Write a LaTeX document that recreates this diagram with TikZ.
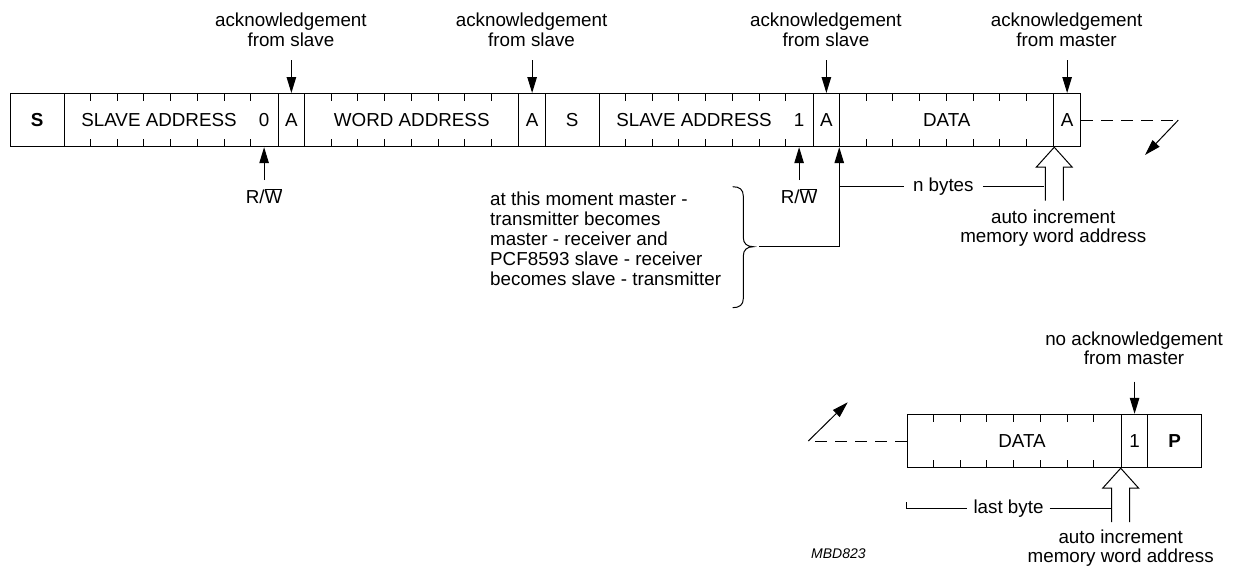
\documentclass[tikz,border=0pt]{standalone}
\usepackage{fontspec}
\setmainfont{Liberation Sans}
\usetikzlibrary{arrows.meta}
\newcommand\lfont{\fontsize{18.8}{19.5}\selectfont}
\newcommand\cl[1]{\begin{tabular}[t]{@{}c@{}}#1\end{tabular}}
\begin{document}
\begin{tikzpicture}[x=1pt,y=-1pt,
  cell/.style={draw, line width=1pt, minimum height=53.2pt, inner sep=0pt, anchor=west, font=\lfont},
  txt/.style={inner sep=0pt, font=\lfont},
  lbl/.style={inner sep=0pt, font=\lfont, anchor=base},
  arr/.style={line width=1pt, -{Triangle[length=16pt,width=9.5pt]}},
  conn/.style={line width=1pt},
  dashline/.style={line width=1pt, dash pattern=on 12pt off 8pt},
  hollow/.style={line width=1pt, line join=miter}
]
\useasboundingbox (0,0) rectangle (1235,571);

% ---- top frame ----
\node[cell, minimum width=53.5pt] (s1) at (10,120.1) {\bfseries S};
\node[cell, minimum width=214pt] (sa1) at (63.5,120.1) {};
\node[cell, minimum width=26.75pt] (a1) at (277.5,120.1) {A};
\node[cell, minimum width=214pt] (wa) at (304.25,120.1) {WORD ADDRESS};
\node[cell, minimum width=26.75pt] (a2) at (518.25,120.1) {A};
\node[cell, minimum width=53.5pt] (s2) at (545,120.1) {S};
\node[cell, minimum width=214pt] (sa2) at (598.5,120.1) {};
\node[cell, minimum width=26.75pt] (a3) at (812.5,120.1) {A};
\node[cell, minimum width=214pt] (d1) at (839.25,120.1) {DATA};
\node[cell, minimum width=26.75pt] (a4) at (1053.25,120.1) {A};

\node[txt] (sa1t) at (159,120.1) {SLAVE ADDRESS};
\node[txt] (rw0) at (264.1,120.1) {0};
\node[txt] (sa2t) at (694,120.1) {SLAVE ADDRESS};
\node[txt] (rw1) at (799.1,120.1) {1};

\foreach \x in {63.5,304.25,598.5,839.25}
  \foreach \k in {1,...,7} {
    \draw[conn] (\x+\k*26.75,93.5) -- ++(0,7.5);
    \draw[conn] (\x+\k*26.75,146.7) -- ++(0,-7.5);
  }

% ---- top labels and arrows ----
\node[lbl] (ack1) at (290.9,26.7) {\cl{acknowledgement\\from slave}};
\node[lbl] (ack2) at (531.6,26.7) {\cl{acknowledgement\\from slave}};
\node[lbl] (ack3) at (825.9,26.7) {\cl{acknowledgement\\from slave}};
\node[lbl] (ack4) at (1066.6,26.7) {\cl{acknowledgement\\from master}};
\draw[arr] (a1.north |- 0,60) -- (a1.north);
\draw[arr] (a2.north |- 0,60) -- (a2.north);
\draw[arr] (a3.north |- 0,60) -- (a3.north);
\draw[arr] (a4.north |- 0,60) -- (a4.north);

% ---- R/W ----
\node[lbl] (rwl0) at (264.1,203.3) {R/$\overline{\mbox{W}}$};
\node[lbl] (rwl1) at (799.1,203.3) {R/$\overline{\mbox{W}}$};
\draw[arr] (rw0 |- 0,180) -- (rw0 |- sa1.south);
\draw[arr] (rw1 |- 0,180) -- (rw1 |- sa2.south);

% ---- continuation ----
\coordinate (dc1) at (1178.3,120.1);
\coordinate (dt1) at (1145,155);
\draw[dashline] (a4.east) -- (dc1);
\draw[arr] (dc1) -- (dt1);

% ---- brace and text ----
\node[font=\fontsize{18.8}{20}\selectfont, inner sep=0pt, anchor=base west] (msg) at (490,205)
  {\begin{tabular}[t]{@{}l@{}}at this moment master -\\transmitter becomes\\master - receiver and\\PCF8593 slave - receiver\\becomes slave - transmitter\end{tabular}};
\draw[conn] (732.7,186.7) .. controls (739.5,186.7) and (743.3,189.5) .. (743.3,196)
  -- (743.3,237.5) .. controls (743.3,243.5) and (747,246.7) .. (753.3,246.7)
  .. controls (747,246.7) and (743.3,249.9) .. (743.3,256)
  -- (743.3,298.5) .. controls (743.3,304.9) and (739.5,307.7) .. (732.7,307.7);
\coordinate (brk) at (759.3,246.7);
\coordinate (crn) at (839.25,246.7);
\draw[arr] (brk) -- (crn) -- (d1.south west);

% ---- n bytes ----
\node[font=\lfont, inner xsep=9pt, inner ysep=0pt, anchor=base] (nb) at (943.3,191.7) {n bytes};
\coordinate (nbl) at (839.25,186.7);
\coordinate (h1l) at (1044.25,186.7);
\draw[conn] (nbl) -- (nbl -| nb.west);
\draw[conn] (nbl -| nb.east) -- (h1l);

% ---- hollow arrow top ----
\draw[hollow] ([shift={(-9,53.3)}]d1.south east) -- ++(0,-33.3) -- ++(-9,0) -- (d1.south east)
  -- ++(18,20) -- ++(-9,0) -- ++(0,33.3);
\node[lbl] (ai1) at (1053.25,223.3) {\cl{auto increment\\memory word address}};

% ---- bottom frame ----
\node[cell, minimum width=214pt, minimum height=53.4pt] (d2) at (906.7,441) {};
\node[cell, minimum width=26.75pt, minimum height=53.4pt] (one) at (1120.7,441) {1};
\node[cell, minimum width=53.5pt, minimum height=53.4pt] (p) at (1147.45,441) {\bfseries P};
\node[txt] (d2t) at (1022,441) {DATA};
\foreach \k in {1,...,7} {
  \draw[conn] (906.7+\k*26.75,414.3) -- ++(0,7.5);
  \draw[conn] (906.7+\k*26.75,467.7) -- ++(0,-7.5);
}
\coordinate (dc2) at (808.3,441);
\coordinate (dt2) at (847.7,402.3);
\draw[dashline] (d2.west) -- (dc2);
\draw[arr] (dc2) -- (dt2);

\node[lbl] (nack) at (1134.1,345) {\cl{no acknowledgement\\from master}};
\draw[arr] (one.north |- 0,381.7) -- (one.north);

% ---- hollow arrow bottom ----
\draw[hollow] ([shift={(-9,54)}]one.south west) -- ++(0,-34) -- ++(-9,0) -- (one.south west)
  -- ++(18,20) -- ++(-9,0) -- ++(0,34);
\node[lbl] (ai2) at (1120.7,543.3) {\cl{auto increment\\memory word address}};

% ---- last byte ----
\coordinate (lb0) at (906.7,502.3);
\coordinate (lbc) at (906.7,508.3);
\coordinate (h2l) at (1111.7,508.3);
\node[font=\lfont, inner xsep=6pt, inner ysep=0pt, anchor=base] (lb) at (1008.5,513.3) {last byte};
\draw[conn] (lb0) -- (lbc) -- (lbc -| lb.west);
\draw[conn] (lbc -| lb.east) -- (h2l);

\node[font=\fontsize{14}{16}\selectfont\itshape, inner sep=0pt, anchor=base west] (id) at (811,558.3) {MBD823};
\end{tikzpicture}
\end{document}
